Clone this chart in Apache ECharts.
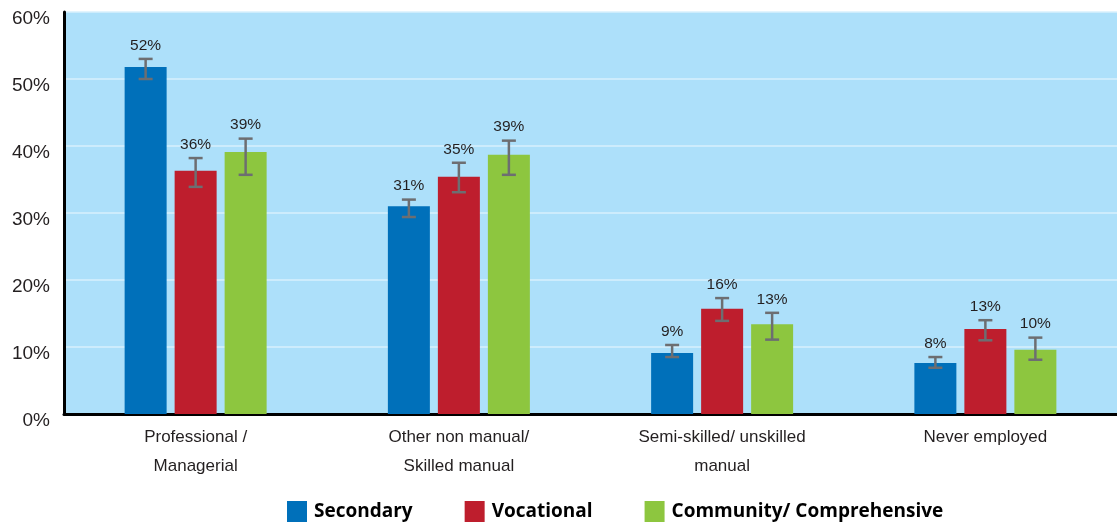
<!DOCTYPE html>
<html>
<head>
<meta charset="utf-8">
<script src="https://cdn.jsdelivr.net/npm/echarts@6/dist/echarts.min.js"></script>
<style>
html,body{margin:0;padding:0;background:#fff;}
#chart{width:1117px;height:525px;}
</style>
</head>
<body>
<div id="chart"></div>
<script>
const categories = ['Professional /\nManagerial', 'Other non manual/\nSkilled manual', 'Semi-skilled/ unskilled\nmanual', 'Never employed'];
const seriesNames = ['Secondary', 'Vocational', 'Community/ Comprehensive'];
const secondary = [51.8, 31.0, 9.1, 7.6];
const vocational = [36.3, 35.4, 15.7, 12.7];
const community = [39.1, 38.7, 13.4, 9.6];
const secondaryLow = [50.0, 29.4, 8.5, 6.9];
const secondaryHigh = [53.0, 32.0, 10.3, 8.5];
const vocationalLow = [33.9, 33.1, 13.9, 11.0];
const vocationalHigh = [38.2, 37.5, 17.3, 14.0];
const communityLow = [35.7, 35.7, 11.1, 8.1];
const communityHigh = [41.1, 40.8, 15.1, 11.4];
const yTicks = [0, 10, 20, 30, 40, 50, 60];

const colors = ['#0070BA', '#BE1E2D', '#8DC63F'];
const values = [secondary, vocational, community];
const lows = [secondaryLow, vocationalLow, communityLow];
const highs = [secondaryHigh, vocationalHigh, communityHigh];
const BAR_W = 42, BAR_GAP = 8;

const chart = echarts.init(document.getElementById('chart'), null, {renderer: 'canvas'});

const barSeries = values.map((arr, i) => ({
  name: seriesNames[i],
  type: 'bar',
  data: arr,
  barWidth: BAR_W,
  barGap: (BAR_GAP / BAR_W * 100) + '%',
  itemStyle: {color: colors[i]},
  z: 2
}));

const errSeries = values.map((arr, si) => ({
  type: 'custom',
  name: seriesNames[si] + ' err',
  data: arr.map((v, ci) => [ci, lows[si][ci], highs[si][ci], v]),
  encode: {x: 0, y: [1, 2]},
  z: 5,
  silent: true,
  renderItem: function (params, api) {
    const ci = api.value(0);
    const offset = (si - 1) * (BAR_W + BAR_GAP);
    const lo = api.coord([ci, api.value(1)]);
    const hi = api.coord([ci, api.value(2)]);
    const x = lo[0] + offset;
    const cap = 7;
    const st = {stroke: '#6D6E71', lineWidth: 2.5};
    const v = api.value(3);
    return {
      type: 'group',
      children: [
        {type: 'line', shape: {x1: x, y1: lo[1], x2: x, y2: hi[1]}, style: st},
        {type: 'line', shape: {x1: x - cap, y1: lo[1], x2: x + cap, y2: lo[1]}, style: st},
        {type: 'line', shape: {x1: x - cap, y1: hi[1], x2: x + cap, y2: hi[1]}, style: st},
        {type: 'text', x: x, y: hi[1] - 13.5, style: {
          text: Math.round(v) + '%', fill: '#231F20', font: '15.5px "Liberation Sans", Arial, sans-serif',
          align: 'center', verticalAlign: 'middle'}}
      ]
    };
  }
}));

chart.setOption({
  animation: false,
  backgroundColor: '#ffffff',
  grid: {
    left: 64, right: 0, top: 12, bottom: 111,
    show: true, backgroundColor: '#ADE0FA', borderWidth: 0
  },
  legend: {
    data: seriesNames,
    left: 282, top: 496,
    itemWidth: 20, itemHeight: 21, itemGap: 52,
    icon: 'rect',
    textStyle: {fontFamily: '"Open Sans", sans-serif', fontWeight: 'bold', fontSize: 19, color: '#000', padding: [0, 0, 0, 2]}
  },
  xAxis: {
    type: 'category',
    data: categories,
    axisLine: {show: true, lineStyle: {color: '#000', width: 3}},
    axisTick: {show: false},
    axisLabel: {
      color: '#231F20', fontSize: 17, fontFamily: '"Liberation Sans", Arial, sans-serif',
      lineHeight: 29, margin: 9, interval: 0
    },
    splitLine: {show: false}
  },
  yAxis: {
    type: 'value',
    min: yTicks[0], max: yTicks[yTicks.length - 1], interval: 10,
    axisLine: {show: true, lineStyle: {color: '#000', width: 3}},
    axisTick: {show: false},
    axisLabel: {
      color: '#231F20', fontSize: 19, fontFamily: '"Liberation Sans", Arial, sans-serif',
      margin: 14, formatter: '{value}%', verticalAlign: 'top', lineHeight: 13
    },
    splitLine: {show: true, lineStyle: {color: '#D8F0FC', width: 1.5}}
  },
  series: barSeries.concat(errSeries)
});
</script>
</body>
</html>
